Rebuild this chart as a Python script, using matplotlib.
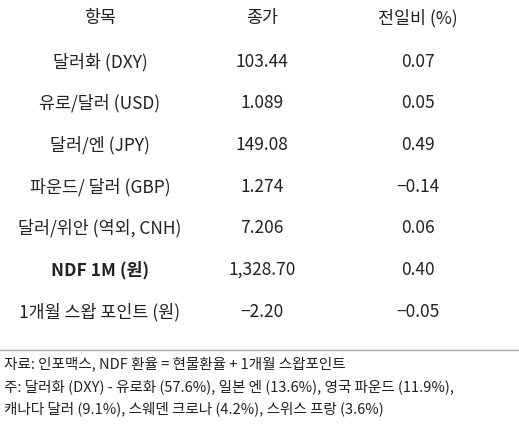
import matplotlib.pyplot as plt

plt.rcParams['font.family'] = ['Noto Sans CJK KR', 'DejaVu Sans']

headers = ["항목", "종가", "전일비 (%)"]
items = ["달러화 (DXY)", "유로/달러 (USD)", "달러/엔 (JPY)", "파운드/ 달러 (GBP)",
         "달러/위안 (역외, CNH)", "NDF 1M (원)", "1개월 스왑 포인트 (원)"]
closes = ["103.44", "1.089", "149.08", "1.274", "7.206", "1,328.70", "-2.20"]
changes = ["0.07", "0.05", "0.49", "-0.14", "0.06", "0.40", "-0.05"]
bold_rows = ["NDF 1M (원)"]
notes = [
    "자료: 인포맥스, NDF 환율 = 현물환율 + 1개월 스왑포인트",
    "주: 달러화 (DXY) - 유로화 (57.6%), 일본 엔 (13.6%), 영국 파운드 (11.9%),",
    "캐나다 달러 (9.1%), 스웨덴 크로나 (4.2%), 스위스 프랑 (3.6%)",
]

W, H = 519, 425
fig = plt.figure(figsize=(W / 100, H / 100), dpi=100)
ax = fig.add_axes([0, 0, 1, 1])
ax.set_xlim(0, W)
ax.set_ylim(H, 0)
ax.axis("off")

col_x = [100, 262, 418]
for x, h in zip(col_x, headers):
    ax.text(x, 18, h, ha="center", va="center", fontsize=12.5, color="#222222")

row_y = [62, 103, 145, 187, 228, 270, 312]
for y, it, c, d in zip(row_y, items, closes, changes):
    # only the item label is bold
    w = "bold" if it in bold_rows else "normal"
    ax.text(col_x[0], y, it, ha="center", va="center", fontsize=12.5,
            color="#222222", fontweight=w)
    for x, s in zip(col_x[1:], [c, d]):
        ax.text(x, y, s.replace("-", "\u2212"), ha="center", va="center",
                fontsize=12.5, color="#222222")

ax.plot([0, W], [350, 350], color="#aaaaaa", lw=1)
for y, s in zip([364, 387, 409], notes):
    ax.text(4, y, s, ha="left", va="center", fontsize=10.5, color="#222222")

fig.savefig("out.png", dpi=100)
